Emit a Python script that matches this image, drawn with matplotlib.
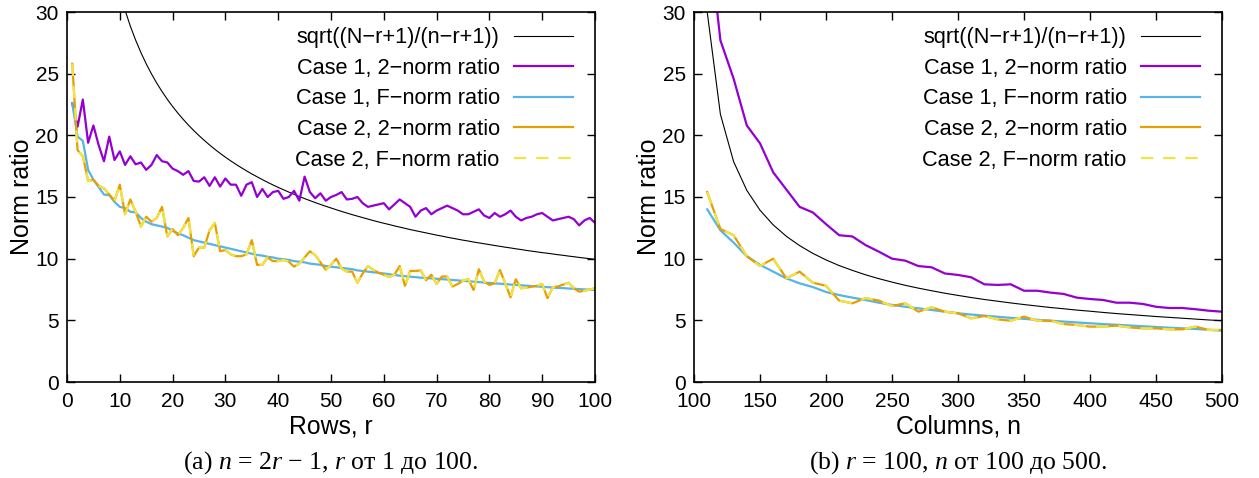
import matplotlib
matplotlib.use('Agg')
import matplotlib.pyplot as plt

plt.rcParams['font.family'] = ['Liberation Sans', 'DejaVu Sans']
plt.rcParams['mathtext.fontset'] = 'custom'
plt.rcParams['mathtext.rm'] = 'Liberation Serif'
plt.rcParams['mathtext.it'] = 'Liberation Serif:italic'

# ---- left panel: n = 2r - 1, r = 1..100
rows = list(range(1, 101))

bound_rows = [100.0, 70.71, 57.73, 49.99, 44.71, 40.81, 37.79, 35.34, 33.32, 31.61,
              30.14, 28.85, 27.72, 26.71, 25.80, 24.98, 24.23, 23.55, 22.92, 22.34,
              21.80, 21.30, 20.83, 20.39, 19.98, 19.59, 19.22, 18.87, 18.54, 18.23,
              17.93, 17.65, 17.38, 17.12, 16.87, 16.64, 16.41, 16.19, 15.98, 15.78,
              15.59, 15.40, 15.22, 15.04, 14.87, 14.71, 14.55, 14.40, 14.25, 14.11,
              13.97, 13.83, 13.70, 13.57, 13.45, 13.33, 13.21, 13.09, 12.98, 12.87,
              12.77, 12.66, 12.56, 12.46, 12.36, 12.27, 12.18, 12.09, 12.00, 11.91,
              11.83, 11.74, 11.66, 11.58, 11.50, 11.43, 11.35, 11.28, 11.21, 11.14,
              11.07, 11.00, 10.93, 10.87, 10.80, 10.74, 10.67, 10.61, 10.55, 10.49,
              10.44, 10.38, 10.32, 10.27, 10.21, 10.16, 10.10, 10.05, 10.00, 9.95]

case1_2n_rows = [22.6, 20.7, 22.9, 19.4, 20.8, 19.2, 17.9, 19.9, 18.0, 18.7,
                 17.6, 18.3, 17.65, 17.8, 17.2, 17.6, 18.4, 17.9, 17.8, 17.3,
                 17.1, 16.8, 17.1, 16.3, 16.25, 16.6, 15.9, 16.6, 15.85, 16.5,
                 16.0, 16.0, 15.1, 16.0, 16.2, 15.0, 15.65, 15.0, 15.4, 15.5,
                 14.85, 15.0, 15.5, 14.7, 16.65, 15.4, 14.9, 15.3, 14.7, 15.0,
                 15.17, 15.4, 14.8, 14.85, 15.0, 14.5, 14.2, 14.3, 14.4, 14.5,
                 14.0, 14.4, 14.8, 14.5, 14.2, 13.4, 13.9, 14.1, 13.6, 13.9,
                 14.1, 14.3, 14.1, 13.9, 13.6, 13.6, 13.8, 14.0, 13.5, 13.3,
                 13.7, 13.4, 13.6, 13.9, 13.4, 13.1, 13.3, 13.4, 13.6, 13.7,
                 13.4, 13.1, 13.2, 13.3, 13.4, 13.2, 12.7, 13.1, 13.3, 12.9]

case1_f_rows = [22.6, 19.9, 19.55, 17.2, 16.4, 15.8, 15.2, 15.15, 14.6, 14.2,
                14.1, 13.8, 13.75, 13.3, 13.0, 12.8, 12.7, 12.6, 12.5, 12.25,
                12.05, 11.9, 11.7, 11.5, 11.4, 11.3, 11.2, 11.1, 11.0, 10.9,
                10.8, 10.7, 10.6, 10.5, 10.4, 10.3, 10.25, 10.15, 10.1, 10.0,
                9.95, 9.9, 9.8, 9.75, 9.7, 9.6, 9.55, 9.5, 9.4, 9.35,
                9.3, 9.25, 9.2, 9.15, 9.05, 9.0, 8.95, 8.9, 8.85, 8.8,
                8.74, 8.68, 8.62, 8.58, 8.54, 8.5, 8.46, 8.43, 8.4, 8.37,
                8.34, 8.31, 8.27, 8.24, 8.2, 8.17, 8.13, 8.1, 8.06, 8.03,
                8.0, 7.97, 7.94, 7.9, 7.87, 7.84, 7.81, 7.78, 7.75, 7.72,
                7.69, 7.66, 7.63, 7.61, 7.58, 7.56, 7.53, 7.51, 7.48, 7.46]

case2_2n_rows = [25.8, 18.8, 18.3, 16.3, 16.4, 15.9, 15.7, 15.2, 14.7, 16.0,
                 13.6, 14.8, 13.8, 12.6, 13.4, 13.0, 13.3, 14.2, 11.8, 12.4,
                 11.9, 12.5, 13.3, 10.2, 10.9, 10.9, 12.3, 12.9, 10.6, 10.7,
                 10.35, 10.2, 10.2, 10.35, 11.5, 9.5, 9.5, 10.1, 9.8, 9.8,
                 9.9, 9.76, 9.35, 9.6, 10.1, 10.6, 10.3, 9.7, 9.1, 9.5,
                 10.0, 9.2, 8.95, 8.95, 8.05, 8.8, 9.4, 9.1, 8.85, 8.7,
                 8.5, 8.7, 9.4, 7.8, 9.0, 9.0, 9.05, 8.25, 8.7, 7.95,
                 8.55, 8.55, 7.73, 7.95, 8.2, 8.35, 7.46, 9.14, 8.14, 7.87,
                 8.0, 9.08, 8.0, 6.87, 8.33, 7.6, 7.65, 7.73, 7.8, 7.95,
                 6.8, 7.68, 7.75, 7.9, 8.05, 7.6, 7.32, 7.4, 7.5, 7.6]

case2_f_rows = list(case2_2n_rows)

# ---- right panel: r = 100, n = 110..500
cols = list(range(110, 501, 10))

bound_cols = [30.0, 21.71, 17.87, 15.54, 13.93, 12.74, 11.81, 11.06, 10.43, 9.90,
              9.44, 9.05, 8.69, 8.38, 8.10, 7.84, 7.61, 7.40, 7.20, 7.02,
              6.85, 6.69, 6.55, 6.41, 6.28, 6.16, 6.04, 5.94, 5.83, 5.74,
              5.64, 5.55, 5.47, 5.39, 5.31, 5.24, 5.17, 5.10, 5.03, 4.97]

case1_2n_cols = [37.4, 27.7, 24.6, 20.8, 19.35, 17.0, 15.6, 14.2, 13.75, 12.8,
                 11.9, 11.8, 11.1, 10.57, 10.0, 9.84, 9.4, 9.3, 8.8, 8.68,
                 8.49, 7.92, 7.87, 7.92, 7.4, 7.4, 7.25, 7.14, 6.84, 6.73,
                 6.65, 6.43, 6.43, 6.33, 6.1, 6.0, 6.0, 5.9, 5.78, 5.7]

case1_f_cols = [14.0, 12.3, 11.3, 10.2, 9.5, 8.95, 8.4, 8.0, 7.7, 7.3,
                7.05, 6.84, 6.65, 6.43, 6.25, 6.1, 5.97, 5.84, 5.7, 5.57,
                5.47, 5.38, 5.29, 5.2, 5.12, 5.04, 4.97, 4.9, 4.83, 4.76,
                4.7, 4.64, 4.58, 4.52, 4.46, 4.4, 4.35, 4.3, 4.23, 4.16]

case2_2n_cols = [15.4, 12.4, 11.9, 10.2, 9.4, 10.0, 8.4, 8.95, 8.05, 7.8,
                 6.6, 6.38, 6.8, 6.6, 6.16, 6.38, 5.7, 6.06, 5.7, 5.57,
                 5.16, 5.35, 5.08, 4.97, 5.3, 4.97, 4.97, 4.7, 4.62, 4.49,
                 4.49, 4.57, 4.43, 4.35, 4.35, 4.27, 4.27, 4.49, 4.22, 4.22]

case2_f_cols = list(case2_2n_cols)

labels = ['sqrt((N\u2212r+1)/(n\u2212r+1))', 'Case 1, 2\u2212norm ratio', 'Case 1, F\u2212norm ratio',
          'Case 2, 2\u2212norm ratio', 'Case 2, F\u2212norm ratio']


def draw(ax, x, bound, c1_2n, c1_f, c2_2n, c2_f):
    ax.plot(x, bound, color='black', lw=0.8, label=labels[0])
    ax.plot(x, c1_2n, color='#9400D3', lw=1.6, label=labels[1])
    ax.plot(x, c1_f, color='#56B4E9', lw=1.6, label=labels[2])
    ax.plot(x, c2_2n, color='#E69F00', lw=1.6, label=labels[3])
    ax.plot(x, c2_f, color='#F0E442', lw=1.6, dashes=(5.5, 4.5), label=labels[4])
    ax.set_ylim(0, 30)
    ax.set_yticks(range(0, 31, 5))
    ax.set_ylabel('Norm ratio', fontsize=18, labelpad=1)
    ax.tick_params(direction='in', length=6, width=1, top=True, right=True,
                   labelsize=15, pad=6)
    ax.tick_params(axis='x', pad=7)
    for s in ax.spines.values():
        s.set_linewidth(1.2)
    ax.legend(loc='upper right', bbox_to_anchor=(1 - 7 / 528, 1), frameon=False,
              markerfirst=False, fontsize=15.7, handlelength=2.7, handletextpad=0.65,
              labelspacing=0.44, borderaxespad=0.3)


fig = plt.figure(figsize=(12.59, 4.78), dpi=100)
ax1 = fig.add_axes([67 / 1259, 96 / 478, 528 / 1259, 370 / 478])
ax2 = fig.add_axes([694 / 1259, 96 / 478, 528 / 1259, 370 / 478])

draw(ax1, rows, bound_rows, case1_2n_rows, case1_f_rows, case2_2n_rows, case2_f_rows)
ax1.set_xlim(0, 100)
ax1.set_xticks(range(0, 101, 10))
ax1.set_xlabel('Rows, r', fontsize=17.8, labelpad=3)

draw(ax2, cols, bound_cols, case1_2n_cols, case1_f_cols, case2_2n_cols, case2_f_cols)
ax2.set_xlim(100, 500)
ax2.set_xticks(range(100, 501, 50))
ax2.set_xlabel('Columns, n', fontsize=17.8, labelpad=3)

fig.text(331 / 1259, 1 - 463 / 478, '(a) $n$ = 2$r$ \u2212 1, $r$ от 1 до 100.',
         family='Liberation Serif', fontsize=18.5, ha='center', va='center')
fig.text(958 / 1259, 1 - 463 / 478, '(b) $r$ = 100, $n$ от 100 до 500.',
         family='Liberation Serif', fontsize=18.5, ha='center', va='center')

fig.savefig('out.png', dpi=100)
